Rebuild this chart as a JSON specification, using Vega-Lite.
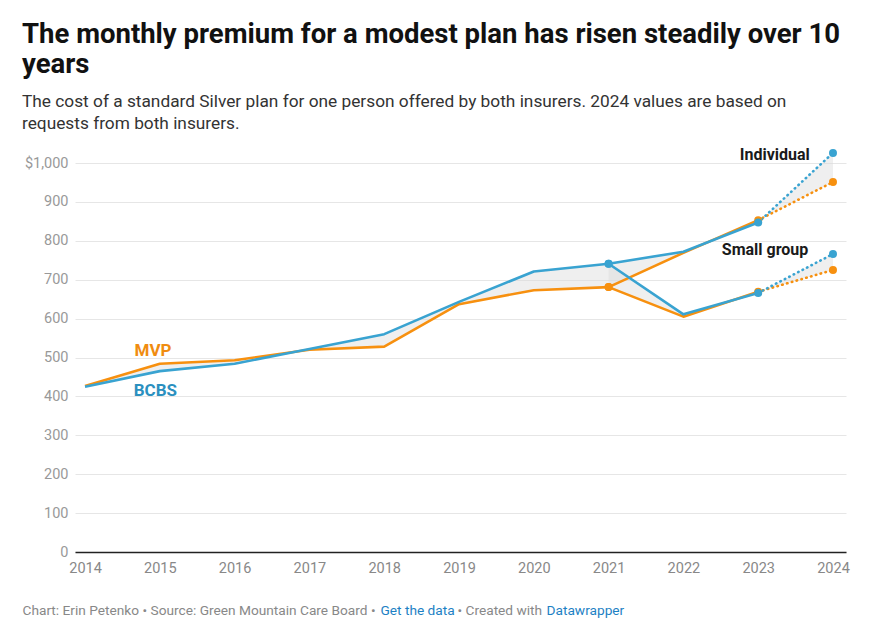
{
  "$schema": "https://vega.github.io/schema/vega-lite/v6.json",
  "width": 771,
  "height": 389,
  "autosize": {"type": "none"},
  "padding": {"left": 75, "top": 163, "right": 36, "bottom": 88},
  "background": "white",
  "config": {
    "font": "Roboto",
    "view": {"stroke": null},
    "axisX": {
      "titleFont": "Roboto",
      "titleFontSize": 13.7,
      "titleFontWeight": "normal",
      "titleAnchor": "start",
      "titleAlign": "left",
      "titleBaseline": "alphabetic",
      "titleY": 62
    }
  },
  "resolve": {"axis": {"x": "independent"}},
  "title": {
    "text": ["The monthly premium for a modest plan has risen steadily over 10", "years"],
    "subtitle": ["The cost of a standard Silver plan for one person offered by both insurers. 2024 values are based on", "requests from both insurers."],
    "anchor": "start",
    "frame": "group",
    "dx": -53,
    "offset": 15,
    "font": "Roboto",
    "fontSize": 27.5,
    "fontWeight": "bold",
    "lineHeight": 30,
    "color": "#111111",
    "subtitleFont": "Roboto",
    "subtitleFontSize": 17.3,
    "subtitleLineHeight": 22,
    "subtitleColor": "#333333",
    "subtitlePadding": 14
  },
  "datasets": {
    "premiums": [
      {"year": 2014, "group": "Individual", "MVP": 427, "BCBS": 425},
      {"year": 2015, "group": "Individual", "MVP": 484, "BCBS": 465},
      {"year": 2016, "group": "Individual", "MVP": 493, "BCBS": 484},
      {"year": 2017, "group": "Individual", "MVP": 520, "BCBS": 522},
      {"year": 2018, "group": "Individual", "MVP": 528, "BCBS": 560},
      {"year": 2019, "group": "Individual", "MVP": 637, "BCBS": 643},
      {"year": 2020, "group": "Individual", "MVP": 673, "BCBS": 721},
      {"year": 2021, "group": "Individual", "MVP": 681, "BCBS": 741},
      {"year": 2022, "group": "Individual", "MVP": 769, "BCBS": 772},
      {"year": 2023, "group": "Individual", "MVP": 853, "BCBS": 847},
      {"year": 2024, "group": "Individual", "MVP": 951, "BCBS": 1026},
      {"year": 2021, "group": "Small group", "MVP": 681, "BCBS": 741},
      {"year": 2022, "group": "Small group", "MVP": 605, "BCBS": 611},
      {"year": 2023, "group": "Small group", "MVP": 669, "BCBS": 666},
      {"year": 2024, "group": "Small group", "MVP": 725, "BCBS": 766}
    ],
    "labels": [
      {"label": "MVP", "year": 2014.91, "premium": 517},
      {"label": "BCBS", "year": 2014.94, "premium": 414},
      {"label": "Individual", "year": 2023.69, "premium": 1020},
      {"label": "Small group", "year": 2023.67, "premium": 776}
    ]
  },
  "data": {"name": "premiums"},
  "encoding": {
    "x": {
      "field": "year",
      "type": "quantitative",
      "scale": {"domain": [2013.866, 2024.174], "nice": false, "zero": false},
      "axis": null
    }
  },
  "layer": [
    {
      "mark": {"type": "area", "color": "#dcdcdc", "opacity": 0.45},
      "encoding": {
        "x": {
          "field": "year",
          "type": "quantitative",
          "scale": {"domain": [2013.866, 2024.174], "nice": false, "zero": false},
          "axis": {
            "orient": "bottom",
            "values": [2014, 2015, 2016, 2017, 2018, 2019, 2020, 2021, 2022, 2023, 2024],
            "format": "d",
            "grid": false,
            "ticks": false,
            "labelFont": "Roboto",
            "labelFontSize": 14.5,
            "labelColor": "#888888",
            "labelPadding": 9,
            "labelFlush": false,
            "labelOverlap": false,
            "domainColor": "#222222",
            "domainWidth": 1.3,
            "title": "Chart: Erin Petenko • Source: Green Mountain Care Board •",
            "titleColor": "#888888",
            "titleX": -53
          }
        },
        "y": {
          "field": "BCBS",
          "type": "quantitative",
          "scale": {"domain": [0, 1000], "nice": false},
          "axis": {
            "values": [0, 100, 200, 300, 400, 500, 600, 700, 800, 900, 1000],
            "tickCount": 11,
            "labelExpr": "datum.value == 1000 ? '$1,000' : datum.label",
            "labelOverlap": false,
            "domain": false,
            "ticks": false,
            "gridColor": "#e6e6e6",
            "gridWidth": 1,
            "labelFont": "Roboto",
            "labelFontSize": 14.5,
            "labelColor": "#999999",
            "labelPadding": 7,
            "title": null
          }
        },
        "y2": {"field": "MVP"},
        "detail": {"field": "group"}
      }
    },
    {
      "transform": [
        {"filter": "datum.year <= 2023"},
        {"fold": ["MVP", "BCBS"], "as": ["insurer", "premium"]}
      ],
      "mark": {"type": "line", "strokeWidth": 2.6, "strokeJoin": "round"},
      "encoding": {
        "x": {
          "field": "year",
          "type": "quantitative",
          "axis": {
            "orient": "bottom",
            "labels": false,
            "ticks": false,
            "domain": false,
            "grid": false,
            "title": "Get the data",
            "titleColor": "#1d81c4",
            "titleX": 305
          }
        },
        "y": {
          "field": "premium",
          "type": "quantitative",
          "axis": {
            "values": [0, 100, 200, 300, 400, 500, 600, 700, 800, 900, 1000],
            "tickCount": 11,
            "labelExpr": "datum.value == 1000 ? '$1,000' : datum.label",
            "labelOverlap": false,
            "domain": false,
            "ticks": false,
            "gridColor": "#e6e6e6",
            "gridWidth": 1,
            "labelFont": "Roboto",
            "labelFontSize": 14.5,
            "labelColor": "#999999",
            "labelPadding": 7,
            "title": null
          }
        },
        "color": {
          "field": "insurer",
          "type": "nominal",
          "scale": {"domain": ["BCBS", "MVP"], "range": ["#39a3d1", "#f7900f"]},
          "legend": null
        },
        "detail": {"field": "group"}
      }
    },
    {
      "transform": [
        {"filter": "datum.year >= 2023"},
        {"fold": ["MVP", "BCBS"], "as": ["insurer", "premium"]}
      ],
      "mark": {"type": "line", "strokeWidth": 2.6, "strokeDash": [0.5, 4.5], "strokeCap": "round"},
      "encoding": {
        "x": {
          "field": "year",
          "type": "quantitative",
          "axis": {
            "orient": "bottom",
            "labels": false,
            "ticks": false,
            "domain": false,
            "grid": false,
            "title": "• Created with",
            "titleColor": "#888888",
            "titleX": 382
          }
        },
        "y": {"field": "premium", "type": "quantitative"},
        "color": {"field": "insurer", "type": "nominal", "legend": null},
        "detail": {"field": "group"}
      }
    },
    {
      "transform": [
        {"filter": "datum.year == 2021 || datum.year >= 2023"},
        {"fold": ["MVP", "BCBS"], "as": ["insurer", "premium"]}
      ],
      "mark": {"type": "circle", "size": 64, "opacity": 1},
      "encoding": {
        "x": {
          "field": "year",
          "type": "quantitative",
          "axis": {
            "orient": "bottom",
            "labels": false,
            "ticks": false,
            "domain": false,
            "grid": false,
            "title": "Datawrapper",
            "titleColor": "#1d81c4",
            "titleX": 471
          }
        },
        "y": {"field": "premium", "type": "quantitative"},
        "color": {"field": "insurer", "type": "nominal", "legend": null}
      }
    },
    {
      "data": {"name": "labels"},
      "transform": [{"filter": "datum.label == 'MVP'"}],
      "mark": {"type": "text", "font": "Roboto", "fontSize": 17, "fontWeight": "bold", "color": "#f08c10", "align": "center", "baseline": "middle"},
      "encoding": {
        "y": {"field": "premium", "type": "quantitative"},
        "text": {"field": "label"}
      }
    },
    {
      "data": {"name": "labels"},
      "transform": [{"filter": "datum.label == 'BCBS'"}],
      "mark": {"type": "text", "font": "Roboto", "fontSize": 17, "fontWeight": "bold", "color": "#2b90bf", "align": "center", "baseline": "middle"},
      "encoding": {
        "y": {"field": "premium", "type": "quantitative"},
        "text": {"field": "label"}
      }
    },
    {
      "data": {"name": "labels"},
      "transform": [{"filter": "datum.label == 'Individual' || datum.label == 'Small group'"}],
      "mark": {"type": "text", "font": "Roboto", "fontSize": 16, "fontWeight": "bold", "color": "#1a1a1a", "align": "right", "baseline": "middle"},
      "encoding": {
        "y": {"field": "premium", "type": "quantitative"},
        "text": {"field": "label"}
      }
    }
  ]
}
